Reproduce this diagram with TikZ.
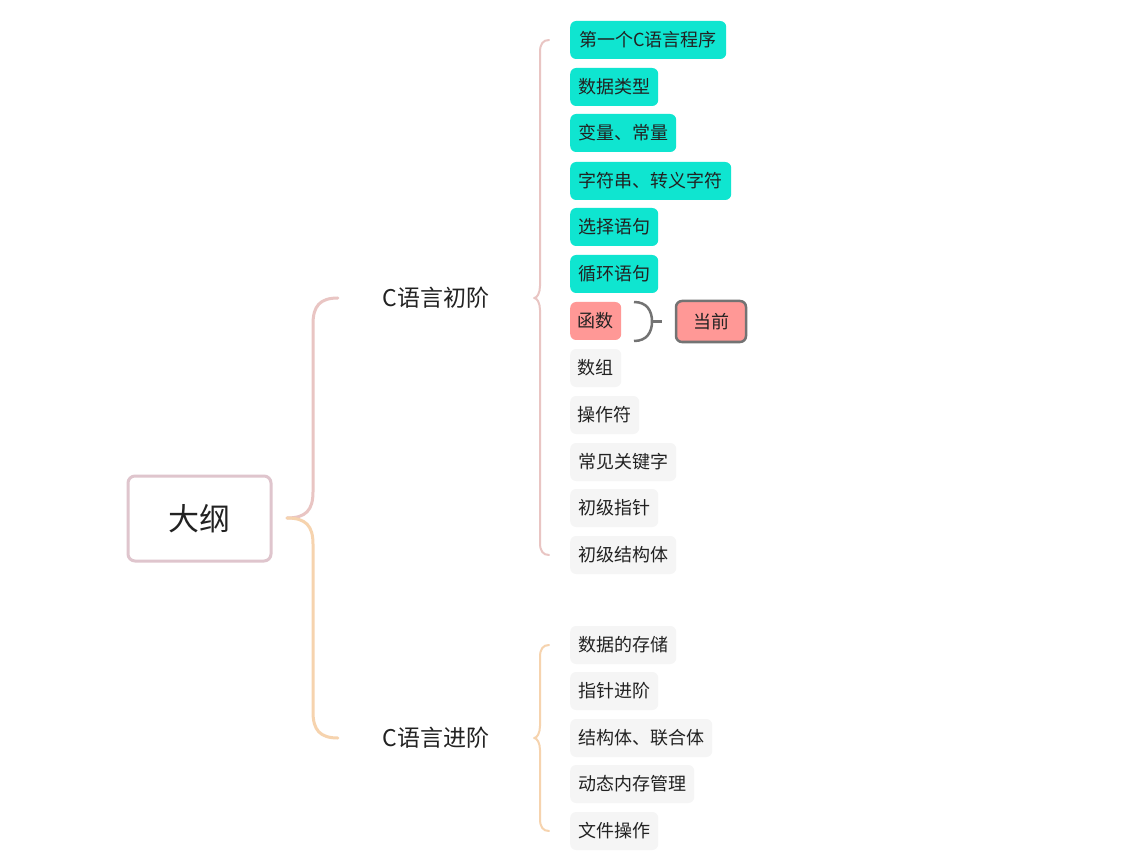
\documentclass[tikz,border=0pt]{standalone}
\usepackage{fontspec}
\setmainfont{Noto Sans CJK SC}
\definecolor{teal1}{HTML}{0FE5D0}
\definecolor{red1}{HTML}{FF9896}
\definecolor{gray1}{HTML}{F5F5F5}
\definecolor{pinkl}{HTML}{E9C5C3}
\definecolor{orangel}{HTML}{F6D3AE}
\definecolor{rootb}{HTML}{DFC5CD}
\definecolor{txt}{HTML}{222222}
\begin{document}
\begin{tikzpicture}[x=1pt,y=-1pt,
  item/.style={anchor=west, rounded corners=6pt, minimum height=38pt, inner xsep=0pt, font=\fontsize{18}{21}\selectfont, text=txt},
  tealitem/.style={item, fill=teal1},
  reditem/.style={item, fill=red1},
  grayitem/.style={item, fill=gray1},
  lvl/.style={minimum width=196pt, minimum height=40pt, inner sep=0pt, font=\fontsize{23}{27}\selectfont, text=txt},
  conn/.style={line width=3pt, line cap=round},
  brk/.style={line width=2pt, line cap=round}]
\useasboundingbox (0,0) rectangle (1121,866);
\fill[white] (0,0) rectangle (1121,866);
% root
\node[draw=rootb, line width=3pt, rounded corners=7pt, minimum width=143pt, minimum height=85pt, font=\fontsize{31}{36}\selectfont, text=txt] (root) at (199.5,518.5) {大纲};
\coordinate (rs) at (287,518);
% level 1
\node[lvl] (a) at (436,298) {C语言初阶};
\node[lvl] (b) at (436,738) {C语言进阶};
\draw[conn, pinkl] (rs) .. controls (306,518) and (313,510) .. (313,492) -- (313,324) .. controls (313,306) and (320,298) .. (a.west);
\draw[conn, orangel] (rs) .. controls (306,518) and (313,526) .. (313,544) -- (313,712) .. controls (313,730) and (320,738) .. (b.west);
% children group A
\node[tealitem, minimum width=156pt] (a1) at (570,40) {第一个C语言程序};
\node[tealitem, minimum width=88pt] (a2) at (570,87) {数据类型};
\node[tealitem, minimum width=106pt] (a3) at (570,133) {变量、常量};
\node[tealitem, minimum width=161pt] (a4) at (570,181) {字符串、转义字符};
\node[tealitem, minimum width=88pt] (a5) at (570,227) {选择语句};
\node[tealitem, minimum width=88pt] (a6) at (570,274) {循环语句};
\node[reditem, minimum width=51pt] (a7) at (570,321) {函数};
\node[grayitem, minimum width=51pt] (a8) at (570,368) {数组};
\node[grayitem, minimum width=69pt] (a9) at (570,415) {操作符};
\node[grayitem, minimum width=106pt] (a10) at (570,462) {常见关键字};
\node[grayitem, minimum width=88pt] (a11) at (570,508) {初级指针};
\node[grayitem, minimum width=106pt] (a12) at (570,555) {初级结构体};
% children group B
\node[grayitem, minimum width=106pt] (b1) at (570,645) {数据的存储};
\node[grayitem, minimum width=88pt] (b2) at (570,691) {指针进阶};
\node[grayitem, minimum width=142pt] (b3) at (570,738) {结构体、联合体};
\node[grayitem, minimum width=124pt] (b4) at (570,784) {动态内存管理};
\node[grayitem, minimum width=88pt] (b5) at (570,831) {文件操作};
% brackets
\draw[brk, pinkl] (a.east) .. controls (537,298) and (540,293) .. (540,286) -- (540,52) .. controls (540,44) and (543,40) .. (549,40);
\draw[brk, pinkl] (a.east) .. controls (537,298) and (540,303) .. (540,310) -- (540,543) .. controls (540,551) and (543,555) .. (549,555);
\draw[brk, orangel] (b.east) .. controls (537,738) and (540,733) .. (540,726) -- (540,657) .. controls (540,649) and (543,645) .. (549,645);
\draw[brk, orangel] (b.east) .. controls (537,738) and (540,743) .. (540,750) -- (540,819) .. controls (540,827) and (543,831) .. (549,831);
% current callout
\node[draw=gray!90!black, line width=2.5pt, fill=red1, rounded corners=6pt, minimum width=70pt, minimum height=41pt, font=\fontsize{18}{21}\selectfont, text=txt] (cur) at (711,321.5) {当前};
\coordinate (ct) at (634,302);
\coordinate (cb) at (634,341);
\draw[line width=2.5pt, gray!90!black] (ct) .. controls (647,302) and (652,311) .. (652,321.5) .. controls (652,332) and (647,341) .. (cb);
\draw[line width=2.5pt, gray!90!black] (652,321.5) -- (662,321.5);
\end{tikzpicture}
\end{document}
